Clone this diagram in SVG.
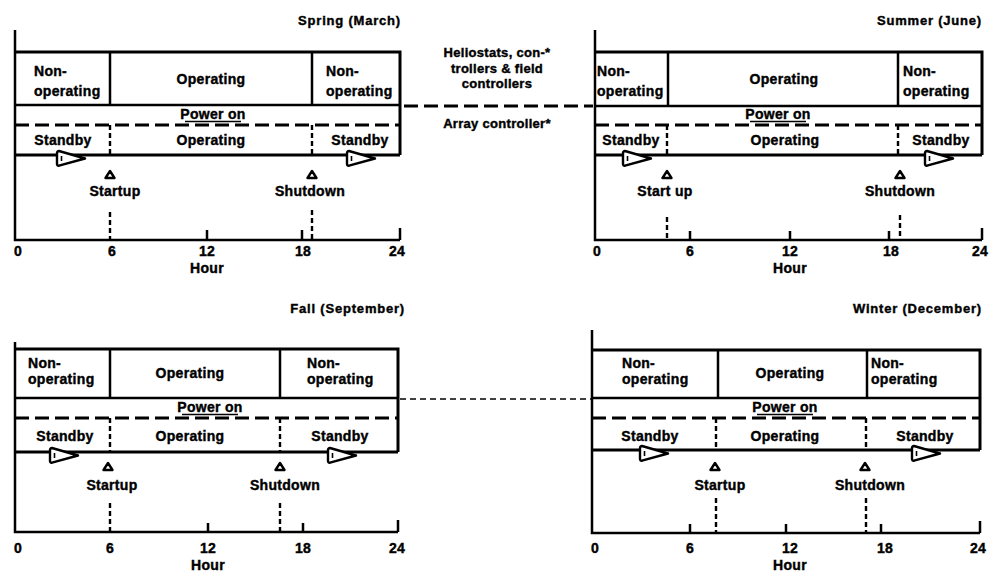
<svg xmlns="http://www.w3.org/2000/svg" width="993" height="578" viewBox="0 0 993 578">
  <style>
    text { font-family: "Liberation Sans", Arial, sans-serif; font-weight: bold; fill: #000; stroke: #000; stroke-width: 0.4px; }
    .lbl { font-size: 14px; letter-spacing: 0.3px; }
    .mid { text-anchor: middle; }
    .ttl { font-size: 13px; letter-spacing: 0.8px; text-anchor: end; }
    .ctr { font-size: 13px; letter-spacing: 0.3px; text-anchor: middle; }
    .box { fill: none; stroke: #000; stroke-width: 3; }
    .thin { fill: none; stroke: #000; stroke-width: 2.5; }
    .axis { fill: none; stroke: #000; stroke-width: 2.5; }
    .dash { fill: none; stroke: #000; stroke-width: 3; stroke-dasharray: 14 6; }
    .vdash { fill: none; stroke: #000; stroke-width: 2.4; stroke-dasharray: 5 3; }
    .ul { stroke: #000; stroke-width: 1.5; }
    .tick { stroke: #000; stroke-width: 2.5; }
  </style>
  <defs>
    <!-- pennant marker on the standby baseline -->
    <g id="pennant">
      <path d="M2,-7.5 Q0,-7.5 0,-5.5 L0,5.5 Q0,7.5 2,7.2 L28,0 Z" fill="#fff" stroke="#000" stroke-width="2.4" stroke-linejoin="round"/>
      <line x1="4.5" y1="-2.5" x2="4.5" y2="2.5" stroke="#000" stroke-width="1.6"/>
    </g>
    <!-- startup / shutdown marker -->
    <path id="tri" d="M0,-4 L4.5,3 L-4.5,3 Z" fill="#fff" stroke="#000" stroke-width="2.4" stroke-linejoin="round"/>
  </defs>

  <!-- Spring panel -->
  <g id="spring">
    <text class="ttl" x="401" y="25">Spring  (March)</text>
    <path class="axis" d="M15,30 V240 H400"/>
    <path class="box" d="M15,52 H400 V155"/>
    <line class="thin" x1="15" y1="105" x2="400" y2="105"/>
    <line class="thin" x1="110" y1="52" x2="110" y2="105"/>
    <line class="thin" x1="312" y1="52" x2="312" y2="105"/>
    <line class="dash" x1="15" y1="125" x2="400" y2="125"/>
    <line class="vdash" x1="110" y1="125" x2="110" y2="155"/>
    <line class="vdash" x1="312" y1="125" x2="312" y2="155"/>
    <line class="box" x1="15" y1="155" x2="400" y2="155"/>
    <use href="#pennant" x="57" y="158.5"/>
    <use href="#pennant" x="347" y="158.5"/>
    <text class="lbl" x="34" y="76">Non-</text>
    <text class="lbl" x="34" y="96">operating</text>
    <text class="lbl mid" x="211" y="84">Operating</text>
    <text class="lbl" x="326" y="76">Non-</text>
    <text class="lbl" x="326" y="96">operating</text>
    <text class="lbl mid" x="213" y="119">Power on</text>
    <line class="ul" x1="185" y1="121.5" x2="241" y2="121.5"/>
    <text class="lbl mid" x="63" y="145">Standby</text>
    <text class="lbl mid" x="211" y="145">Operating</text>
    <text class="lbl mid" x="360" y="145">Standby</text>
    <use href="#tri" x="110" y="175"/>
    <text class="lbl mid" x="115" y="196">Startup</text>
    <use href="#tri" x="312" y="175"/>
    <text class="lbl mid" x="310" y="196">Shutdown</text>
    <line class="vdash" x1="110" y1="212" x2="110" y2="240"/>
    <line class="vdash" x1="312" y1="210" x2="312" y2="240"/>
    <line class="tick" x1="207" y1="230" x2="207" y2="240"/>
    <line class="tick" x1="302" y1="230" x2="302" y2="240"/>
    <line class="tick" x1="400" y1="228" x2="400" y2="240"/>
    <text class="lbl mid" x="18" y="256">0</text>
    <text class="lbl mid" x="112" y="256">6</text>
    <text class="lbl mid" x="207" y="256">12</text>
    <text class="lbl mid" x="303" y="256">18</text>
    <text class="lbl mid" x="397" y="256">24</text>
    <text class="lbl mid" x="207" y="273">Hour</text>
  </g>

  <!-- Summer panel -->
  <g id="summer">
    <text class="ttl" x="982" y="25">Summer (June)</text>
    <path class="axis" d="M595,30 V240 H982"/>
    <path class="box" d="M595,52 H982 V155"/>
    <line class="thin" x1="595" y1="106" x2="982" y2="106"/>
    <line class="thin" x1="668" y1="52" x2="668" y2="106"/>
    <line class="thin" x1="898" y1="52" x2="898" y2="106"/>
    <line class="dash" x1="595" y1="125" x2="982" y2="125"/>
    <line class="vdash" x1="667" y1="125" x2="667" y2="155"/>
    <line class="vdash" x1="898" y1="125" x2="898" y2="155"/>
    <line class="box" x1="595" y1="155" x2="982" y2="155"/>
    <use href="#pennant" x="623" y="158.5"/>
    <use href="#pennant" x="925" y="158.5"/>
    <text class="lbl" x="597" y="76">Non-</text>
    <text class="lbl" x="597" y="96" letter-spacing="0">operating</text>
    <text class="lbl mid" x="784" y="84">Operating</text>
    <text class="lbl" x="903" y="76">Non-</text>
    <text class="lbl" x="903" y="96">operating</text>
    <text class="lbl mid" x="778" y="119">Power on</text>
    <line class="ul" x1="750" y1="121.5" x2="806" y2="121.5"/>
    <text class="lbl mid" x="631" y="145">Standby</text>
    <text class="lbl mid" x="785" y="145">Operating</text>
    <text class="lbl mid" x="941" y="145">Standby</text>
    <use href="#tri" x="667" y="175"/>
    <text class="lbl mid" x="665" y="196">Start up</text>
    <use href="#tri" x="900" y="175"/>
    <text class="lbl mid" x="900" y="196">Shutdown</text>
    <line class="vdash" x1="667" y1="217" x2="667" y2="240"/>
    <line class="vdash" x1="900" y1="215" x2="900" y2="240"/>
    <line class="tick" x1="690" y1="231" x2="690" y2="240"/>
    <line class="tick" x1="790" y1="231" x2="790" y2="240"/>
    <line class="tick" x1="889" y1="231" x2="889" y2="240"/>
    <line class="tick" x1="982" y1="228" x2="982" y2="240"/>
    <text class="lbl mid" x="597" y="256">0</text>
    <text class="lbl mid" x="690" y="256">6</text>
    <text class="lbl mid" x="790" y="256">12</text>
    <text class="lbl mid" x="891" y="256">18</text>
    <text class="lbl mid" x="980" y="256">24</text>
    <text class="lbl mid" x="790" y="273">Hour</text>
  </g>

  <!-- Fall panel -->
  <g id="fall">
    <text class="ttl" x="405" y="313">Fall (September)</text>
    <path class="axis" d="M15,342 V532 H398"/>
    <path class="box" d="M15,349 H398 V452"/>
    <line class="thin" x1="15" y1="398" x2="398" y2="398"/>
    <line class="thin" x1="110" y1="349" x2="110" y2="398"/>
    <line class="thin" x1="280" y1="349" x2="280" y2="398"/>
    <line class="dash" x1="15" y1="418" x2="398" y2="418"/>
    <line class="vdash" x1="110" y1="418" x2="110" y2="452"/>
    <line class="vdash" x1="280" y1="418" x2="280" y2="452"/>
    <line class="box" x1="15" y1="452" x2="398" y2="452"/>
    <use href="#pennant" x="50" y="455.5"/>
    <use href="#pennant" x="328" y="455.5"/>
    <text class="lbl" x="28" y="368">Non-</text>
    <text class="lbl" x="28" y="384">operating</text>
    <text class="lbl mid" x="190" y="378">Operating</text>
    <text class="lbl" x="307" y="368">Non-</text>
    <text class="lbl" x="307" y="384">operating</text>
    <text class="lbl mid" x="210" y="412">Power on</text>
    <line class="ul" x1="182" y1="414.5" x2="238" y2="414.5"/>
    <text class="lbl mid" x="65" y="441">Standby</text>
    <text class="lbl mid" x="190" y="441">Operating</text>
    <text class="lbl mid" x="340" y="441">Standby</text>
    <use href="#tri" x="108" y="467"/>
    <text class="lbl mid" x="112" y="490">Startup</text>
    <use href="#tri" x="280" y="467"/>
    <text class="lbl mid" x="285" y="490">Shutdown</text>
    <line class="vdash" x1="110" y1="503" x2="110" y2="532"/>
    <line class="vdash" x1="280" y1="503" x2="280" y2="532"/>
    <line class="tick" x1="208" y1="523" x2="208" y2="532"/>
    <line class="tick" x1="303" y1="523" x2="303" y2="532"/>
    <line class="tick" x1="398" y1="520" x2="398" y2="532"/>
    <text class="lbl mid" x="18" y="553">0</text>
    <text class="lbl mid" x="110" y="553">6</text>
    <text class="lbl mid" x="208" y="553">12</text>
    <text class="lbl mid" x="303" y="553">18</text>
    <text class="lbl mid" x="397" y="553">24</text>
    <text class="lbl mid" x="208" y="570">Hour</text>
  </g>

  <!-- Winter panel -->
  <g id="winter">
    <text class="ttl" x="982" y="313">Winter (December)</text>
    <path class="axis" d="M592,330 V533 H980"/>
    <path class="box" d="M592,350 H980 V450"/>
    <line class="thin" x1="592" y1="398" x2="980" y2="398"/>
    <line class="thin" x1="718" y1="350" x2="718" y2="398"/>
    <line class="thin" x1="867" y1="350" x2="867" y2="398"/>
    <line class="dash" x1="592" y1="418" x2="980" y2="418"/>
    <line class="vdash" x1="716" y1="418" x2="716" y2="450"/>
    <line class="vdash" x1="866" y1="418" x2="866" y2="450"/>
    <line class="box" x1="592" y1="450" x2="980" y2="450"/>
    <use href="#pennant" x="640" y="453.5"/>
    <use href="#pennant" x="912" y="453.5"/>
    <text class="lbl" x="622" y="368">Non-</text>
    <text class="lbl" x="622" y="384">operating</text>
    <text class="lbl mid" x="790" y="378">Operating</text>
    <text class="lbl" x="871" y="368">Non-</text>
    <text class="lbl" x="871" y="384">operating</text>
    <text class="lbl mid" x="785" y="412">Power on</text>
    <line class="ul" x1="757" y1="414.5" x2="813" y2="414.5"/>
    <text class="lbl mid" x="650" y="441">Standby</text>
    <text class="lbl mid" x="785" y="441">Operating</text>
    <text class="lbl mid" x="925" y="441">Standby</text>
    <use href="#tri" x="715" y="467"/>
    <text class="lbl mid" x="720" y="490">Startup</text>
    <use href="#tri" x="865" y="467"/>
    <text class="lbl mid" x="870" y="490">Shutdown</text>
    <line class="vdash" x1="716" y1="498" x2="716" y2="533"/>
    <line class="vdash" x1="866" y1="498" x2="866" y2="533"/>
    <line class="tick" x1="690" y1="524" x2="690" y2="533"/>
    <line class="tick" x1="786" y1="524" x2="786" y2="533"/>
    <line class="tick" x1="881" y1="524" x2="881" y2="533"/>
    <line class="tick" x1="980" y1="521" x2="980" y2="533"/>
    <text class="lbl mid" x="595" y="553">0</text>
    <text class="lbl mid" x="690" y="553">6</text>
    <text class="lbl mid" x="790" y="553">12</text>
    <text class="lbl mid" x="885" y="553">18</text>
    <text class="lbl mid" x="978" y="553">24</text>
    <text class="lbl mid" x="790" y="570">Hour</text>
  </g>

  <!-- Legend between the upper panels -->
  <g id="legend">
    <text class="ctr" x="497" y="57">Heliostats, con-*</text>
    <text class="ctr" x="497" y="73">trollers &amp; field</text>
    <text class="ctr" x="497" y="88">controllers</text>
    <text class="ctr" x="497" y="128">Array controller*</text>
  </g>

  <!-- Connectors joining the panel row dividers -->
  <g id="connectors">
    <line class="dash" x1="404" y1="106" x2="593" y2="106"/>
    <line x1="400" y1="399" x2="592" y2="399" stroke="#000" stroke-width="1.5" stroke-dasharray="6 4"/>
  </g>
</svg>
